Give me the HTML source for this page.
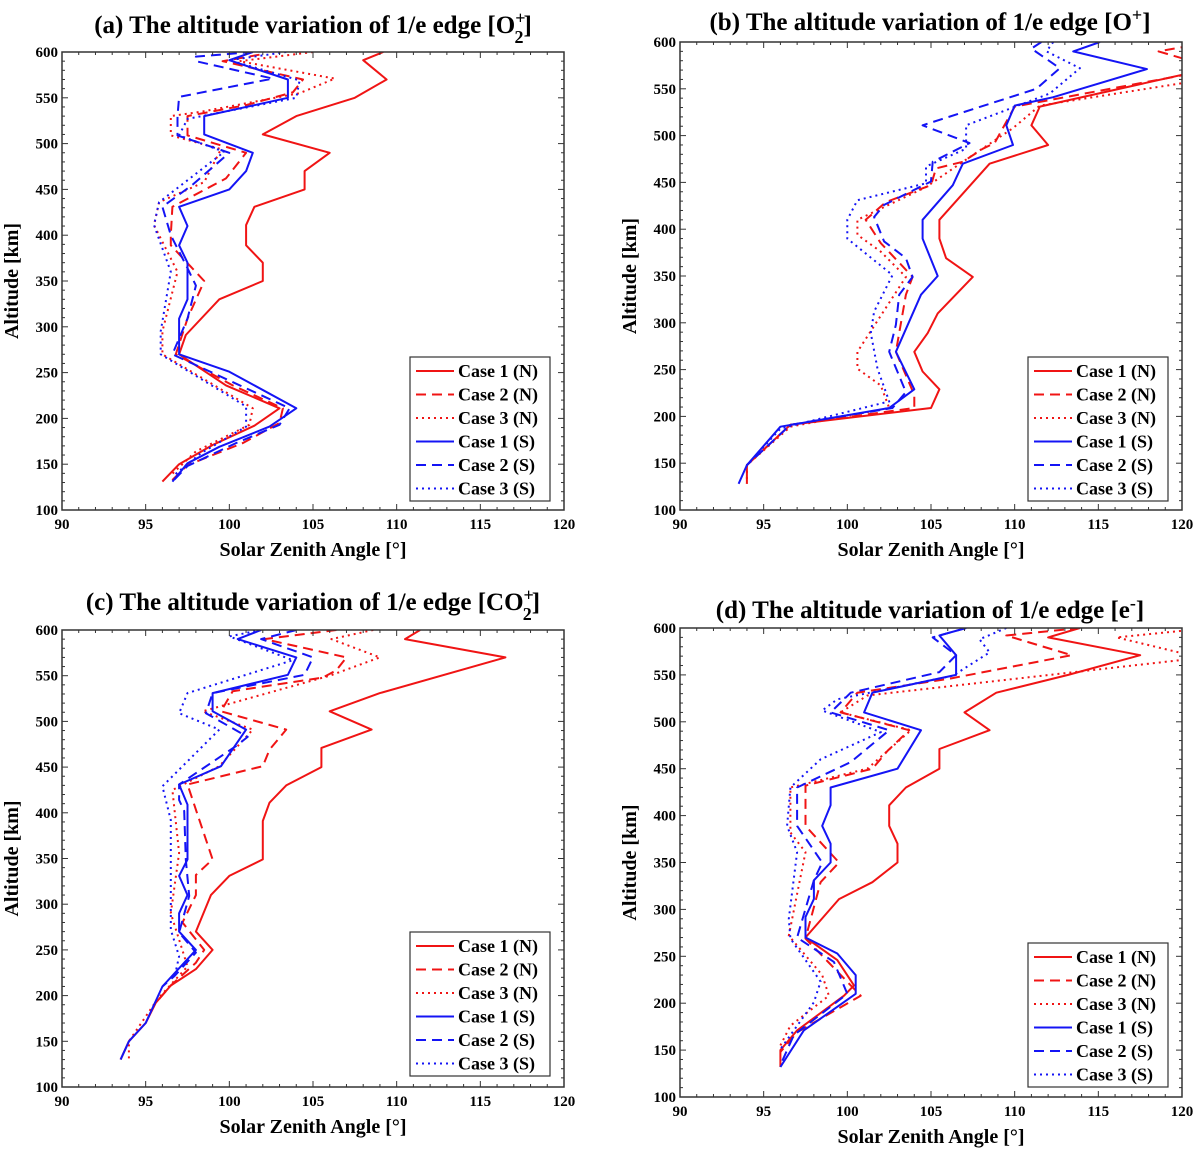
<!DOCTYPE html>
<html><head><meta charset="utf-8"><style>
html,body{margin:0;padding:0;background:#fff}
svg{display:block}
text{font-family:"Liberation Serif",serif}
</style></head><body>
<svg id="fig" width="1200" height="1159" viewBox="0 0 1200 1159" xmlns="http://www.w3.org/2000/svg"></svg>
<script>
// ---- data: [solar zenith angle (deg), altitude (km)] ----
const xTicks=[90,95,100,105,110,115,120];
const yTicks=[100,150,200,250,300,350,400,450,500,550,600];
const legendLabels=["Case 1 (N)","Case 2 (N)","Case 3 (N)","Case 1 (S)","Case 2 (S)","Case 3 (S)"];

const aC1N=[[109.2,600],[108,591],[109.4,570],[107.5,550],[104,530],[102,510],[106,490],[104.5,470],[104.5,450],[101.5,431],[101,411],[101,389],[102,370],[102,350],[99.4,330],[97.4,291],[97,270],[99.8,236],[103,211],[101.5,192],[99,171],[97,150],[96,131]];
const aC2N=[[101.8,597],[99.6,590],[104.4,570],[103.8,556],[101,542],[97.5,530],[97.5,509],[101,490],[99.8,462],[96.6,431],[96.5,400],[96.5,389],[98.5,350],[97.5,309],[96.8,270],[100.2,236],[103.2,211],[103,195],[100.8,173],[97.5,149],[96.5,131]];
const aC3N=[[105,600],[100.6,590],[106.3,571],[104.2,555],[98.4,535],[96.5,530],[96.5,509],[99.5,494],[98.5,458],[95.8,436],[95.5,411],[96.9,360],[96,295],[96,270],[101.4,211],[101.2,193],[98,164],[96.5,138]];
const aC1S=[[101.4,600],[100,591],[103.5,570],[103.5,550],[98.5,530],[98.5,510],[101.4,490],[101,470],[100,450],[97,431],[97.5,410],[97,389],[97.5,370],[97.5,330],[97,309],[97,270],[100,251],[104,211],[102.4,191],[99.4,169],[97.5,151],[96.6,131]];
const aC2S=[[101.4,600],[98,595],[98,590],[102.6,571],[97,551],[96.9,530],[96.9,509],[100,490],[97.8,455],[96,431],[96.5,400],[97.5,364],[98,345],[97.5,309],[96.6,270],[103.6,211],[103,193],[100.4,173],[97.5,148],[96.6,131]];
const aC3S=[[103.4,600],[100,591],[104.2,569],[104,550],[97.5,527],[97,509],[99.7,491],[95.8,436],[95.5,411],[96.5,360],[95.9,295],[95.9,270],[101,213],[101,191],[98.3,162],[96.7,138]];

const bC1N=[[122,575],[120,565],[111.5,531],[111,511],[112,490],[108.5,470],[105.5,410],[105.5,390],[105.9,369],[107.5,349],[105.4,310],[104.8,289],[104,269],[104.5,248],[105.5,229],[105,209],[96.6,191],[94,148],[94,128]];
const bC2N=[[120.5,596],[118.6,590],[120.5,580],[120.5,566],[110,531],[108.8,492],[108.1,486],[106.9,472],[105.3,465],[105,447],[102.3,429],[101.1,410],[102,385],[103.9,349],[103.5,330],[102.9,269],[104,223],[104,209],[96.6,191],[94,148]];
const bC3N=[[121,560],[120,556],[111.5,532],[109.9,508],[106.9,472],[104.7,445],[100.6,410],[100.6,394],[102,376],[103.5,349],[100.6,269],[100.6,251],[102,233],[102.5,209],[96.6,189],[94,148],[94,128]];
const bC1S=[[115.1,600],[113.5,590],[117.9,571],[112.3,541],[110,532],[109.5,511],[109.9,490],[106.9,470],[106.3,447],[104.5,410],[104.5,390],[105.4,350],[104.4,330],[102.9,269],[104,229],[102.5,209],[96,189],[94,148],[93.5,128]];
const bC2S=[[111.6,600],[111,593],[112.7,572],[111.3,550],[104.5,511],[107.3,492],[105.1,472],[105,451],[102.2,426],[101.6,413],[102.2,387],[103.5,369],[103.9,349],[103.1,330],[102.9,298],[102.5,269],[103.5,226],[102.7,209],[96.6,191],[94,148]];
const bC3S=[[112.3,600],[111.9,590],[113.9,572],[112.1,545],[107.1,511],[107.1,486],[104.7,467],[104.7,449],[100.6,431],[100,410],[100,390],[102.7,351],[101.6,312],[101.4,289],[101.8,251],[102.5,216],[96,187],[94,148]];

const cC1N=[[111.4,600],[110.5,590],[116.5,570],[109,531],[106,511],[108.5,491],[105.5,471],[105.5,450],[103.4,430],[102.4,411],[102,391],[102,349],[100,331],[98.9,310],[98,270],[99,250],[98,229],[96.5,211],[95.6,192],[95,170],[94,150],[93.5,130]];
const cC2N=[[106.4,600],[102.1,590],[107,570],[106.4,556],[105.6,548],[100.2,533],[99.5,511],[103.4,491],[102.4,469],[102,451],[97.5,431],[97.9,409],[99,349],[98,332],[98,310],[97.2,280],[98.5,250],[98,236],[96.5,211],[95.6,192]];
const cC3N=[[108.6,600],[106.1,590],[109,570],[106,550],[98.4,511],[101.4,491],[99.4,451],[96.6,425],[97,356],[96.5,290],[97.5,232],[95.7,196],[94,150],[94,130]];
const cC1S=[[101.9,600],[100.5,590],[104,570],[103.5,551],[99,531],[99,511],[101,491],[99.5,451],[97,431],[97.5,409],[97.5,349],[97,331],[97.5,310],[97,290],[97,270],[98,250],[96,210],[95,170],[94,150],[93.5,130]];
const cC2S=[[104,600],[101.9,590],[105,570],[104.5,551],[99,531],[98.6,509],[101.1,483],[100.4,473],[97,431],[97,414],[97.3,402],[97.4,349],[97.6,309],[97,269],[98,247],[96.7,221],[96,210]];
const cC3S=[[101.9,600],[100,593],[103.8,567],[97.5,531],[97,509],[99.4,491],[96,429],[96.5,392],[96.5,272],[97,243],[96.7,218]];

const dC1N=[[113.9,600],[112,590],[117.5,571],[113.2,550],[108.9,531],[107,510],[108.5,491],[105.5,471],[105.5,450],[103.5,430],[102.5,411],[102.5,389],[103,370],[103,350],[101.5,329],[99.5,311],[97.5,270],[99.4,246],[100.4,219],[99.8,208],[97,171],[96,150],[96,132]];
const dC2N=[[113.9,600],[109.5,592],[113.4,571],[106.1,546],[100.6,531],[99.6,510],[103.7,491],[102.4,469],[101.5,450],[97.5,432],[97.5,389],[99.5,350],[98.4,329],[97.5,269],[100.8,208],[97,169],[96,148]];
const dC3N=[[121,600],[120,597],[116.1,590],[120.5,571],[120.5,567],[101.2,528],[99.6,510],[103.8,491],[101.2,450],[96.6,430],[96.6,382],[97.5,361],[96.9,308],[96.5,272],[98.5,230],[98.9,208],[96.6,176],[96,155]];
const dC1S=[[107.1,600],[105.5,592],[106.5,571],[106.5,550],[101.5,531],[101,510],[104.4,491],[103,450],[99,430],[99,411],[98.5,389],[99,370],[99,350],[98,331],[98,311],[97.5,292],[97.5,270],[99.4,253],[100.5,230],[100.5,210],[97.4,171],[96,132]];
const dC2S=[[107.1,600],[105.1,590],[106.5,571],[105.5,553],[100.2,531],[99,510],[102.5,491],[100.2,457],[97,430],[97,389],[98.5,350],[98,331],[97,270],[99.2,244],[100,210],[96.8,166],[96,134]];
const dC3S=[[109.5,600],[107.9,588],[108.5,574],[106.3,549],[99.4,524],[98.5,512],[102,489],[98.4,460],[96.6,430],[96.4,389],[97,361],[96.5,290],[96.6,269],[98.4,223],[98,201],[96,151]];

const NS="http://www.w3.org/2000/svg";
const svg=document.getElementById('fig');
function mk(tag,attrs,parent){const e=document.createElementNS(NS,tag);for(const k in attrs)e.setAttribute(k,attrs[k]);(parent||svg).appendChild(e);return e;}
const RED="#f01414",BLUE="#1414f5";
const styles=[{c:RED,d:""},{c:RED,d:"10,6"},{c:RED,d:"2,4"},{c:BLUE,d:""},{c:BLUE,d:"10,6"},{c:BLUE,d:"2,4"}];

const panels=[
 {id:"a",L:62,R:564,T:52,B:510,series:[aC1N,aC2N,aC3N,aC1S,aC2S,aC3S],title:["(a) The altitude variation of 1/e edge [O","2","+","]"],tx:313,ty:33,lg:[410,357]},
 {id:"b",L:680,R:1182,T:42,B:510,series:[bC1N,bC2N,bC3N,bC1S,bC2S,bC3S],title:["(b) The altitude variation of 1/e edge [O","","+","]"],tx:930,ty:30,lg:[1028,357]},
 {id:"c",L:62,R:564,T:630,B:1087,series:[cC1N,cC2N,cC3N,cC1S,cC2S,cC3S],title:["(c) The altitude variation of 1/e edge [CO","2","+","]"],tx:313,ty:610,lg:[410,932]},
 {id:"d",L:680,R:1182,T:628,B:1097,series:[dC1N,dC2N,dC3N,dC1S,dC2S,dC3S],title:["(d) The altitude variation of 1/e edge [e","","-","]"],tx:930,ty:618,lg:[1028,943]}
];

panels.forEach(p=>{
 const g=mk('g',{});
 
 
 const xs=v=>p.L+(v-90)/30*(p.R-p.L);
 const ys=v=>p.B-(v-100)/500*(p.B-p.T);
 const cp=mk('clipPath',{id:'clip'+p.id},g);
 mk('rect',{x:p.L,y:p.T,width:p.R-p.L,height:p.B-p.T},cp);
 const t=mk('text',{x:p.tx,y:p.ty,'text-anchor':'middle','font-size':25,'font-weight':'bold'},g);
 
 
 const s0=mk('tspan',{},t);s0.textContent=p.title[0];
 const sup=mk('tspan',{dy:-9,'font-size':18},t);sup.textContent=p.title[2];
 if(p.title[1]){const sub=mk('tspan',{dx:-11,dy:19,'font-size':18},t);sub.textContent=p.title[1];
   const cl=mk('tspan',{dy:-10},t);cl.textContent=p.title[3];}
 else{const cl=mk('tspan',{dy:9},t);cl.textContent=p.title[3];}
 const sg=mk('g',{'clip-path':'url(#clip'+p.id+')'},g);
 p.series.forEach((ser,i)=>{
  const pl=mk('polyline',{points:ser.map(d=>xs(d[0]).toFixed(1)+','+ys(d[1]).toFixed(1)).join(' '),fill:'none',stroke:styles[i].c,'stroke-width':2,'stroke-dasharray':styles[i].d,'stroke-linejoin':'round'},sg);
  
  
 });
 for(let v=90;v<=120;v++){const x=xs(v),L=(v%5==0)?6:3;
  mk('line',{x1:x,x2:x,y1:p.B,y2:p.B-L,stroke:'#333'},g);mk('line',{x1:x,x2:x,y1:p.T,y2:p.T+L,stroke:'#333'},g);}
 for(let v=100;v<=600;v+=10){const y=ys(v),L=(v%50==0)?6:3;
  mk('line',{x1:p.L,x2:p.L+L,y1:y,y2:y,stroke:'#333'},g);mk('line',{x1:p.R,x2:p.R-L,y1:y,y2:y,stroke:'#333'},g);}
 mk('rect',{x:p.L,y:p.T,width:p.R-p.L,height:p.B-p.T,fill:'none',stroke:'#333','stroke-width':1.5},g);
 xTicks.forEach(v=>{const tt=mk('text',{x:xs(v),y:p.B+19,'text-anchor':'middle','font-size':15,'font-weight':'bold'},g);tt.textContent=v;
  });
 yTicks.forEach(v=>{const tt=mk('text',{x:p.L-4,y:ys(v)+5,'text-anchor':'end','font-size':15,'font-weight':'bold'},g);tt.textContent=v;
  });
 const xl=mk('text',{x:(p.L+p.R)/2,y:p.B+46,'text-anchor':'middle','font-size':20,'font-weight':'bold'},g);
 xl.textContent="Solar Zenith Angle [°]";
 
 const cy=(p.T+p.B)/2, cx=p.L-44;
 const yl=mk('text',{x:cx,y:cy,'text-anchor':'middle','font-size':20,'font-weight':'bold',transform:'rotate(-90 '+cx+' '+cy+')'},g);
 yl.textContent="Altitude [km]";
 
 const lg=mk('g',{},g);
 
 const [lx,ly]=p.lg;
 mk('rect',{x:lx,y:ly,width:140,height:144,fill:'#fff',stroke:'#333','stroke-width':1.2},lg);
 legendLabels.forEach((lab,i)=>{const yy=ly+14+i*23.5;
  const ln=mk('line',{x1:lx+6,x2:lx+44,y1:yy,y2:yy,stroke:styles[i].c,'stroke-width':2,'stroke-dasharray':styles[i].d},lg);
  
  const tt=mk('text',{x:lx+48,y:yy+6,'font-size':18,'font-weight':'bold'},lg);tt.textContent=lab;
  });
});
</script>
</body></html>
